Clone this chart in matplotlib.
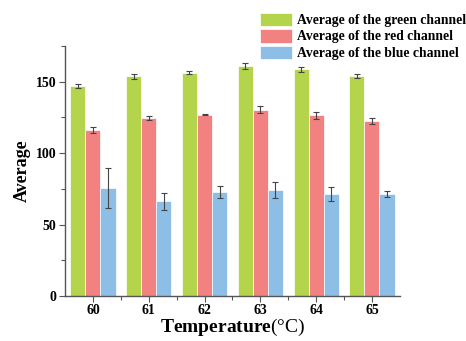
import numpy as np
import matplotlib
matplotlib.use("Agg")
import matplotlib.pyplot as plt
from matplotlib.ticker import MultipleLocator, FixedLocator

plt.rcParams['font.family'] = ['Liberation Serif', 'DejaVu Serif']
plt.rcParams['mathtext.fontset'] = 'custom'
plt.rcParams['mathtext.rm'] = 'Liberation Serif'
plt.rcParams['mathtext.bf'] = 'Liberation Serif:bold'

temps = ["60", "61", "62", "63", "64", "65"]
green = [147.0, 153.7, 156.3, 161.2, 158.6, 154.2]
green_err = [1.5, 2.0, 1.0, 2.0, 1.5, 1.5]
red = [116.3, 124.7, 127.0, 130.5, 126.5, 122.6]
red_err = [2.0, 1.5, 0.5, 2.5, 2.5, 2.0]
blue = [75.6, 66.3, 72.8, 74.4, 71.4, 71.2]
blue_err = [14.0, 6.0, 4.5, 5.5, 5.0, 2.0]

fig = plt.figure(figsize=(4.66, 3.41), dpi=100, facecolor="white")
ax = fig.add_axes([0.1395, 0.132, 0.7185, 0.733])

x = np.arange(len(temps))
w = 0.27
err_kw = dict(ecolor="#444444", elinewidth=0.8, capsize=2.5, capthick=0.8)
ax.bar(x - w, green, w, yerr=green_err, color="#B3D44B", edgecolor="white",
       lw=0.5, error_kw=err_kw, label="Average of the green channel")
ax.bar(x, red, w, yerr=red_err, color="#F28282", edgecolor="white",
       lw=0.5, error_kw=err_kw, label="Average of the red channel")
ax.bar(x + w, blue, w, yerr=blue_err, color="#8DBEE6", edgecolor="white",
       lw=0.5, error_kw=err_kw, label="Average of the blue channel")

ax.set_xlim(-0.5, 5.5)
ax.set_ylim(0, 175)
ax.set_xticks(x)
ax.set_xticklabels(temps, fontweight="bold", fontsize=10)
ax.xaxis.set_minor_locator(FixedLocator(x[:-1] + 0.5))
ax.yaxis.set_major_locator(MultipleLocator(50))
ax.yaxis.set_minor_locator(MultipleLocator(25))
for lab in ax.get_yticklabels():
    lab.set_fontweight("bold")
    lab.set_fontsize(10)

for s in ("top", "right"):
    ax.spines[s].set_visible(False)
for s in ("left", "bottom"):
    ax.spines[s].set_color("#555555")
    ax.spines[s].set_linewidth(1.0)
ax.tick_params(which="both", direction="out", color="#555555", width=0.8)
ax.tick_params(which="major", length=4, pad=2)
ax.tick_params(which="minor", length=3)

ax.set_ylabel("Average", fontsize=13, fontweight="bold", labelpad=4)
ax.set_xlabel(r"$\mathbf{Temperature}\mathrm{(°C)}$", fontsize=14, labelpad=0)

ax.legend(loc="upper left", bbox_to_anchor=(257 / 466, 1 - 10 / 341),
          bbox_transform=fig.transFigure, frameon=False,
          prop={"weight": "bold", "size": 9.8}, handlelength=2.4,
          handleheight=1.15, handletextpad=0.35, labelspacing=0.15,
          borderaxespad=0, borderpad=0.2)

fig.savefig("out.png", dpi=100, facecolor="white")
